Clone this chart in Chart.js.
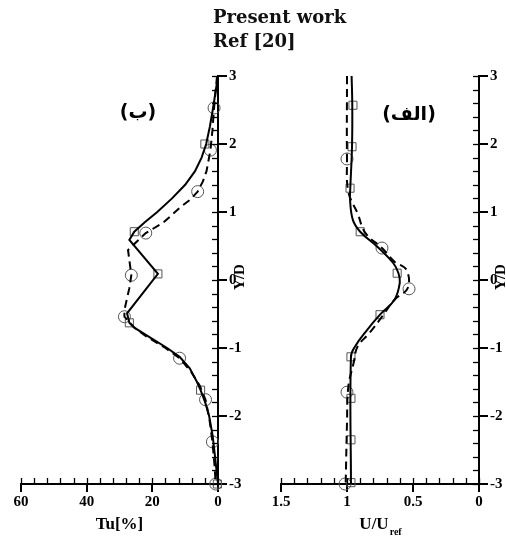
<!DOCTYPE html>
<html>
<head>
<meta charset="utf-8">
<script src="https://cdn.jsdelivr.net/npm/chart.js@4.4.1/dist/chart.umd.min.js"></script>
<style>
  html, body { margin: 0; padding: 0; background: #fff; }
  #wrap { position: relative; width: 506px; height: 537px; overflow: hidden; }
  #wrap canvas { position: absolute; left: 0; top: 0; }
  .leg { position: absolute; left: 213px; font: bold 18px "DejaVu Serif"; color: #111; white-space: nowrap; }
</style>
</head>
<body>
<div id="wrap">
  <canvas id="cTu" width="506" height="537"></canvas>
  <canvas id="cU" width="506" height="537"></canvas>
  <div class="leg" style="top:6px">Present work</div>
  <div class="leg" style="top:30px">Ref [20]</div>
</div>
<script>
// panel (ب) : Tu[%] against Y/D
var tuPresentY = [3, 2.75, 2.5, 2.25, 2.0, 1.8, 1.6, 1.4, 1.2, 1.0, 0.85, 0.71, 0.59, 0.09, -0.49, -0.63, -0.7, -0.85, -1.0, -1.13, -1.3, -1.5, -1.62, -1.8, -2.0, -2.3, -2.6, -3];
var tuPresentX = [0, 0.8, 1.6, 2.5, 3.6, 5.0, 7.0, 10.0, 14.0, 18.5, 22.3, 25.5, 27, 18.3, 27.7, 27, 25.5, 20.5, 15.5, 11.7, 8.6, 6.4, 5.3, 3.9, 2.7, 1.6, 0.9, 0];
var tuRefY = [3, 2.53, 2.2, 1.91, 1.6, 1.45, 1.3, 1.18, 1.07, 0.95, 0.84, 0.69, 0.44, 0.07, -0.12, -0.44, -0.54, -0.7, -0.84, -1.0, -1.15, -1.35, -1.55, -1.76, -2.05, -2.38, -2.7, -3];
var tuRefX = [0.3, 1.2, 1.7, 2.3, 3.5, 4.6, 6.2, 8.5, 11.5, 14.2, 16.8, 22, 27.4, 26.4, 27, 28.5, 28.5, 25.5, 21.5, 16, 11.7, 8.2, 5.6, 3.8, 2.6, 1.7, 1.1, 0.7];
var tuSquareY = [2.0, 0.71, 0.09, -0.63, -1.62, -3.0];
var tuSquareX = [4, 25.5, 18.3, 27, 5.3, 0.2];
var tuCircleY = [2.53, 1.91, 1.3, 0.69, 0.07, -0.54, -1.15, -1.76, -2.38, -3];
var tuCircleX = [1.2, 2.3, 6.2, 22, 26.4, 28.5, 11.7, 3.8, 1.7, 0.7];

// panel (الف) : U/Uref against Y/D
var uPresentY = [3, 2.57, 1.96, 1.35, 1.18, 0.88, 0.71, 0.49, 0.25, 0.1, -0.04, -0.29, -0.51, -0.74, -0.98, -1.13, -3];
var uPresentX = [0.965, 0.96, 0.962, 0.975, 0.977, 0.955, 0.9, 0.77, 0.65, 0.61, 0.6, 0.64, 0.75, 0.85, 0.94, 0.97, 0.97];
var uRefY = [3, 1.78, 1.3, 0.98, 0.69, 0.47, 0.27, 0.15, -0.12, -0.29, -0.54, -0.78, -0.98, -1.22, -1.57, -2.1, -3];
var uRefX = [1.0, 1.0, 0.99, 0.92, 0.86, 0.735, 0.64, 0.55, 0.54, 0.64, 0.735, 0.83, 0.92, 0.95, 0.99, 1.0, 1.01];
var uSquareY = [2.57, 1.96, 1.35, 0.71, 0.1, -0.51, -1.13, -1.74, -2.35, -2.98];
var uSquareX = [0.955, 0.962, 0.977, 0.9, 0.62, 0.75, 0.97, 0.97, 0.97, 0.97];
var uCircleY = [1.78, 0.47, -0.13, -1.65, -3];
var uCircleX = [1.0, 0.735, 0.53, 1.0, 1.015];

var yTicks = [-3, -2, -1, 0, 1, 2, 3];

function pts(xs, ys) {
  return xs.map(function (x, i) { return { x: x, y: ys[i] }; });
}

var tickFont = { family: '"Liberation Serif"', weight: 'bold', size: 15 };

// minor ticks (inward), axis titles and panel label
var panelPlugin = {
  id: 'panel',
  afterDraw: function (chart, args, o) {
    var ctx = chart.ctx, xs = chart.scales.x, ys = chart.scales.y, a = chart.chartArea;
    ctx.save();
    ctx.strokeStyle = '#000';
    ctx.lineWidth = 1.3;
    for (var v = xs.min; v <= xs.max + 1e-9; v += o.xMinor) {
      var px = Math.round(xs.getPixelForValue(v)) + 0.5;
      ctx.beginPath(); ctx.moveTo(px, a.bottom); ctx.lineTo(px, a.bottom - 6); ctx.stroke();
    }
    for (var w = ys.min; w <= ys.max + 1e-9; w += 0.2) {
      var py = Math.round(ys.getPixelForValue(w)) + 0.5;
      ctx.beginPath(); ctx.moveTo(a.right, py); ctx.lineTo(a.right - 6, py); ctx.stroke();
    }
    ctx.fillStyle = '#000';
    ctx.textBaseline = 'middle';
    ctx.textAlign = 'center';
    // panel label
    ctx.font = 'bold 19px "DejaVu Sans"';
    ctx.fillText(o.label, o.labelX, o.labelY);
    // x title (with optional subscript)
    var cx = (a.left + a.right) / 2, ty = a.bottom + 41;
    ctx.font = 'bold 17px "Liberation Serif"';
    var w1 = ctx.measureText(o.xTitle).width;
    var w2 = 0;
    if (o.xSub) { ctx.font = 'bold 10px "Liberation Serif"'; w2 = ctx.measureText(o.xSub).width; }
    ctx.textAlign = 'left';
    ctx.font = 'bold 17px "Liberation Serif"';
    ctx.fillText(o.xTitle, cx - (w1 + w2) / 2, ty);
    if (o.xSub) {
      ctx.font = 'bold 10px "Liberation Serif"';
      ctx.fillText(o.xSub, cx - (w1 + w2) / 2 + w1 + 1, ty + 7);
    }
    // y title, reading bottom to top
    ctx.translate(a.right + 22, ys.getPixelForValue(0) - 3);
    ctx.rotate(-Math.PI / 2);
    ctx.textAlign = 'center';
    ctx.font = 'bold 15px "Liberation Serif"';
    ctx.fillText('Y/D', 0, 0);
    ctx.restore();
  }
};

function lineSet(label, data, dashed, tension) {
  return {
    label: label, data: data, showLine: true, borderColor: '#000', borderWidth: 2,
    borderDash: dashed ? [8, 5] : [], pointRadius: 0, tension: tension, clip: false
  };
}
function markSet(label, data, style, r) {
  return {
    label: label, data: data, showLine: false, pointStyle: style, pointRadius: r,
    borderColor: '#555', borderWidth: 1, backgroundColor: 'rgba(0,0,0,0)', clip: false
  };
}

function makeChart(id, datasets, xMax, xStep, xMinor, pad, panel) {
  var ctx = document.getElementById(id).getContext('2d');
  return new Chart(ctx, {
    type: 'scatter',
    data: { datasets: datasets },
    options: {
      responsive: false,
      animation: false,
      layout: { padding: pad },
      plugins: { legend: { display: false }, tooltip: { enabled: false }, panel: panel },
      scales: {
        x: {
          type: 'linear', reverse: true, min: 0, max: xMax,
          ticks: {
            stepSize: xStep, color: '#000', font: tickFont, padding: 1, maxRotation: 0,
            callback: function (v) { return String(Math.round(v * 10) / 10); }
          },
          grid: { drawOnChartArea: false, drawTicks: true, tickLength: 8, color: '#000', lineWidth: 2 },
          border: { color: '#000', width: 2 },
          afterFit: function (s) { s.height = 45; }
        },
        y: {
          type: 'linear', position: 'right', min: -3, max: 3,
          afterBuildTicks: function (s) { s.ticks = yTicks.map(function (v) { return { value: v }; }); },
          ticks: { color: '#000', font: tickFont, padding: 2, callback: function (v) { return String(v); } },
          grid: { drawOnChartArea: false, drawTicks: true, tickLength: 9, color: '#000', lineWidth: 2 },
          border: { color: '#000', width: 2 },
          afterFit: function (s) { s.width = 27; }
        }
      }
    },
    plugins: [panelPlugin]
  });
}

makeChart('cTu', [
  lineSet('Present work', pts(tuPresentX, tuPresentY), false, 0),
  lineSet('Ref [20]', pts(tuRefX, tuRefY), true, 0),
  markSet('Present work', pts(tuSquareX, tuSquareY), 'rect', 5.7),
  markSet('Ref [20]', pts(tuCircleX, tuCircleY), 'circle', 6)
], 60, 20, 4, { left: 21, right: 261, top: 76, bottom: 8 },
  { xMinor: 4, label: '(ب)', labelX: 138, labelY: 113, xTitle: 'Tu[%]' });

makeChart('cU', [
  lineSet('Present work', pts(uPresentX, uPresentY), false, 0.4),
  lineSet('Ref [20]', pts(uRefX, uRefY), true, 0.4),
  markSet('Present work', pts(uSquareX, uSquareY), 'rect', 5.7),
  markSet('Ref [20]', pts(uCircleX, uCircleY), 'circle', 6)
], 1.5, 0.5, 0.1, { left: 281, right: 0, top: 76, bottom: 8 },
  { xMinor: 0.1, label: '(الف)', labelX: 409, labelY: 115, xTitle: 'U/U', xSub: 'ref' });
</script>
</body>
</html>
